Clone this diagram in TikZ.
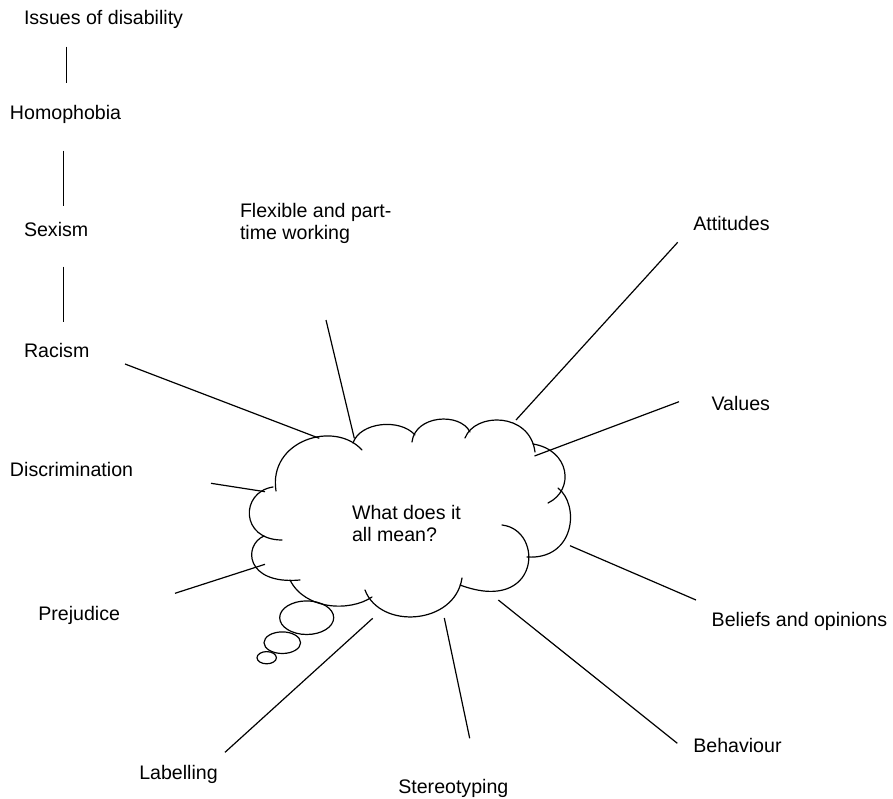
\documentclass[tikz,border=0pt]{standalone}
\usepackage{fontspec}
\setmainfont{Liberation Sans}
\begin{document}
\begin{tikzpicture}[x=0.75pt,y=-0.75pt,
  label/.style={anchor=base west,inner sep=0pt,outer sep=0pt,
    font=\fontsize{14.7}{16.5}\selectfont,text=black},
  link/.style={draw=black,line width=0.9pt},
  cloudline/.style={draw=black,line width=0.9pt,line cap=round}]
\useasboundingbox (0,0) rectangle (893,799);

% --- labels ---
\node[label] (dis)  at (24,25)      {Issues of disability};
\node[label] (hom)  at (10,120)     {Homophobia};
\node[label] (sex)  at (24,236.7)   {Sexism};
\node[label] (rac)  at (24,357.3)   {Racism};
\node[label] (flex) at (240,217.3)  {\vtop{\hbox{Flexible and part-}\hbox{time working}}};
\node[label] (att)  at (693.3,230)  {Attitudes};
\node[label] (val)  at (711.5,410)  {Values};
\node[label] (bel)  at (711.7,626.7){Beliefs and opinions};
\node[label] (beh)  at (693.3,752.7){Behaviour};
\node[label] (ste)  at (398.3,793.3){Stereotyping};
\node[label] (lab)  at (139.3,779)  {Labelling};
\node[label] (pre)  at (38.3,620)   {Prejudice};
\node[label] (disc) at (10,476)     {Discrimination};
\node[label] (q)    at (352,519)    {\vtop{\hbox{What does it}\hbox{all mean?}}};

% --- connector end points ---
\coordinate (v1a) at (66.7,46.7);   \coordinate (v1b) at (66.7,82.7);
\coordinate (v2a) at (63.3,150.7);  \coordinate (v2b) at (63.3,205.7);
\coordinate (v3a) at (63.3,266.7);  \coordinate (v3b) at (63.3,322.3);
\coordinate (raca) at (125,364);    \coordinate (racb) at (319.3,438.3);
\coordinate (flxa) at (326,320);    \coordinate (flxb) at (354.3,438.3);
\coordinate (atta) at (677.7,242.3);\coordinate (attb) at (516,420);
\coordinate (vala) at (679,401.7);  \coordinate (valb) at (534.5,456);
\coordinate (bela) at (696,600);    \coordinate (belb) at (570,545.7);
\coordinate (beha) at (677.3,743.3);\coordinate (behb) at (498.3,600);
\coordinate (stea) at (469.7,738.3);\coordinate (steb) at (444.3,618);
\coordinate (laba) at (225,752.3);  \coordinate (labb) at (372.7,618.3);
\coordinate (prea) at (175,593.3);  \coordinate (preb) at (265,564.3);
\coordinate (disa) at (211,483.3);  \coordinate (disb) at (265,491.7);

% --- connectors ---
\draw[link] (v1a) -- (v1b);
\draw[link] (v2a) -- (v2b);
\draw[link] (v3a) -- (v3b);
\draw[link] (raca) -- (racb);
\draw[link] (flxa) -- (flxb);
\draw[link] (atta) -- (attb);
\draw[link] (vala) -- (valb);
\draw[link] (bela) -- (belb);
\draw[link] (beha) -- (behb);
\draw[link] (stea) -- (steb);
\draw[link] (laba) -- (labb);
\draw[link] (prea) -- (preb);
\draw[link] (disa) -- (disb);

% --- thought bubbles ---
\draw[cloudline] (306.7,617.7) ellipse [x radius=27,y radius=16.8];
\draw[cloudline] (282.3,642.7) ellipse [x radius=18.3,y radius=10.8];
\draw[cloudline] (266.7,657.7) ellipse [x radius=9.7,y radius=6.1];

% --- cloud outline, one puff at a time ---
\draw[cloudline] (276,491) .. controls (268,440) and (335,420) .. (362,450);   % upper left
\draw[cloudline] (353,443) .. controls (360,422) and (400,418) .. (415,435);   % top 1
\draw[cloudline] (412,442) .. controls (415,415) and (460,412) .. (470,432);   % top 2
\draw[cloudline] (465,438) .. controls (475,412) and (530,412) .. (535,452);   % top 3
\draw[cloudline] (533,444) .. controls (570,450) and (575,490) .. (548,503);   % upper right
\draw[cloudline] (558,488) .. controls (580,505) and (575,560) .. (527,557);   % right
\draw[cloudline] (502,525) .. controls (545,530) and (540,615) .. (460,585);   % lower right
\draw[cloudline] (365,590) .. controls (380,630) and (455,625) .. (462,578);   % bottom
\draw[cloudline] (290,580) .. controls (305,610) and (350,612) .. (372,597);   % lower left
\draw[cloudline] (264,536) .. controls (243,545) and (245,585) .. (300,580);   % left lower
\draw[cloudline] (273,487) .. controls (240,492) and (240,540) .. (282,540);   % left
\end{tikzpicture}
\end{document}
